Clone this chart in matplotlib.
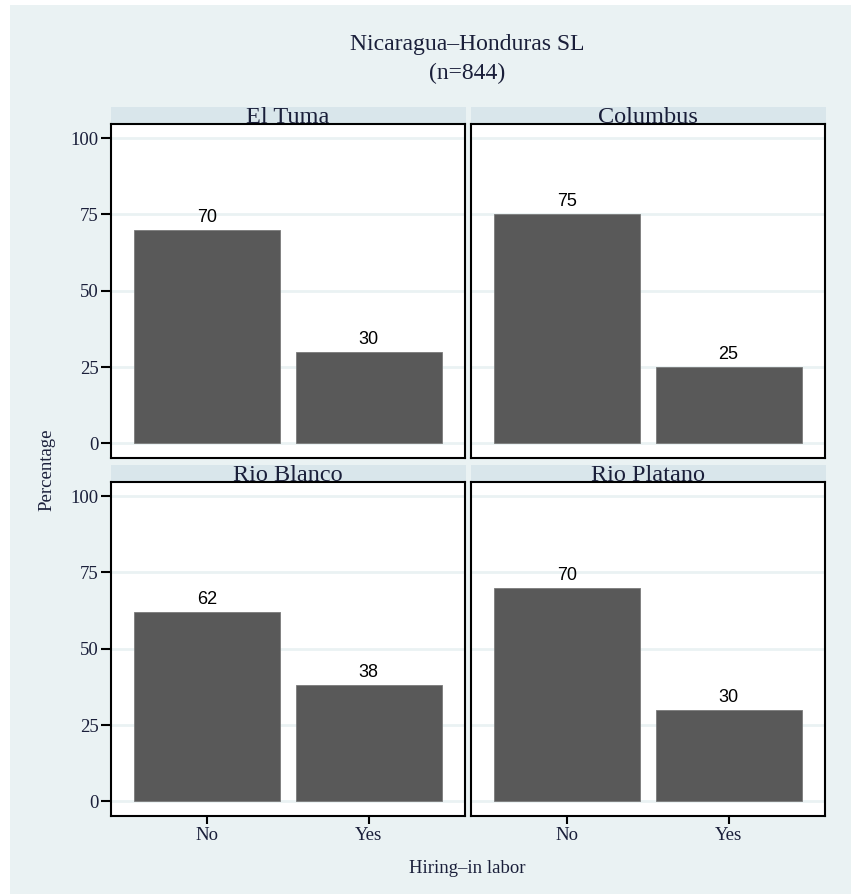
import matplotlib
matplotlib.use("Agg")
import matplotlib.pyplot as plt
from matplotlib.patches import Rectangle

title_lines = ["Nicaragua\u2013Honduras SL", "(n=844)"]
regions = ["El Tuma", "Columbus", "Rio Blanco", "Rio Platano"]
categories = ["No", "Yes"]
values = {
    "El Tuma": [70, 30],
    "Columbus": [75, 25],
    "Rio Blanco": [62, 38],
    "Rio Platano": [70, 30],
}
yticks = [0, 25, 50, 75, 100]
ylabel = "Percentage"
xlabel = "Hiring\u2013in labor"

W, H = 851, 894
BG = "#EAF2F3"
STRIP = "#D9E6EB"
BAR = "#595959"
TXT = "#1a1f3a"
serif = "Liberation Serif"
sans = "Liberation Sans"

fig = plt.figure(figsize=(W / 100, H / 100), dpi=100)
fig.patch.set_facecolor(BG)
# white outer margin on top and left
fig.patches.append(Rectangle((0, 1 - 5 / H), 1, 5 / H, transform=fig.transFigure,
                             facecolor="white", edgecolor="none", zorder=-10))
fig.patches.append(Rectangle((0, 0), 10 / W, 1, transform=fig.transFigure,
                             facecolor="white", edgecolor="none", zorder=-10))


def px_axes(l, t, r, b):
    return [l / W, 1 - b / H, (r - l) / W, (b - t) / H]


cols = [(111, 465), (471, 825)]
rows = [(124, 458), (482, 816)]
strip_h = 17

for i, reg in enumerate(regions):
    r, c = divmod(i, 2)
    l, rr = cols[c]
    t, b = rows[r]
    ax = fig.add_axes(px_axes(l, t, rr, b))
    ax.set_facecolor("white")
    x = list(range(len(categories)))
    vals = values[reg]
    ax.bar(x, vals, width=0.905, color=BAR, edgecolor="#7a7a7a", linewidth=0.6, zorder=3)
    for xi, v in zip(x, vals):
        ax.text(xi, v + 2.6, f"{v}", ha="center", va="baseline", fontsize=13,
                family=sans, color="black", zorder=4)
    ax.set_xlim(-0.595, 1.597)
    ax.set_ylim(-4.8, 104.6)
    for yt in yticks:
        ax.axhline(yt, color=BG, lw=2, zorder=1)
    for s in ax.spines.values():
        s.set_linewidth(1.5)
        s.set_color("black")
    ax.set_yticks(yticks)
    ax.set_xticks(x)
    if c == 0:
        ax.tick_params(axis="y", direction="out", length=7, width=1.5, pad=2,
                       labelsize=13.5, labelcolor=TXT)
        ax.set_yticklabels([str(v) for v in yticks], family=serif)
    else:
        ax.tick_params(axis="y", length=0, labelleft=False)
    if r == 1:
        ax.tick_params(axis="x", direction="out", length=6, width=1.5, pad=2,
                       labelsize=13.5, labelcolor=TXT)
        ax.set_xticklabels(categories, family=serif)
    else:
        ax.tick_params(axis="x", length=0, labelbottom=False)
    # strip
    fig.patches.append(Rectangle((l / W, 1 - t / H), (rr - l + 1) / W, strip_h / H,
                                 transform=fig.transFigure, facecolor=STRIP,
                                 edgecolor="none", zorder=-5))
    fig.text((l + rr) / 2 / W, 1 - (t - 1) / H, reg, ha="center", va="baseline",
             fontsize=17.5, family=serif, color=TXT)

fig.text(467 / W, 1 - 50 / H, title_lines[0], ha="center", va="baseline",
         fontsize=17, family=serif, color=TXT)
fig.text(467 / W, 1 - 79 / H, title_lines[1], ha="center", va="baseline",
         fontsize=17, family=serif, color=TXT)
fig.text(47 / W, 1 - 470 / H, ylabel, ha="center", va="center", rotation=90,
         fontsize=13.5, family=serif, color=TXT)
fig.text(467 / W, 1 - 873 / H, xlabel, ha="center", va="baseline",
         fontsize=13.5, family=serif, color=TXT)

fig.savefig("out.png", dpi=100, facecolor=fig.get_facecolor())
